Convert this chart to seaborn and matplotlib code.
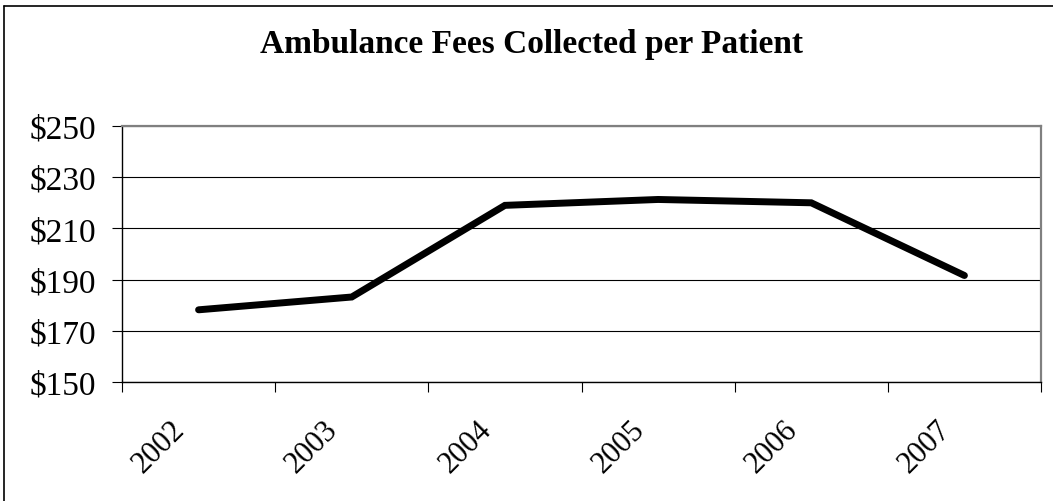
import matplotlib
matplotlib.use("Agg")
import matplotlib.pyplot as plt
import seaborn as sns
import pandas as pd
from matplotlib.lines import Line2D
from matplotlib.ticker import FixedLocator, FuncFormatter
import matplotlib.transforms as mtransforms

years = ["2002", "2003", "2004", "2005", "2006", "2007"]
fees = [178.2, 183.2, 219.0, 221.3, 220.0, 191.6]
y_ticks = [150, 170, 190, 210, 230, 250]
title = "Ambulance Fees Collected per Patient"

sns.set_theme(style="white")
plt.rcParams['font.family'] = ['Liberation Serif', 'DejaVu Serif']
plt.rcParams['text.color'] = 'black'
plt.rcParams['xtick.color'] = 'black'
plt.rcParams['ytick.color'] = 'black'
plt.rcParams['xtick.labelcolor'] = 'black'
plt.rcParams['ytick.labelcolor'] = 'black'

df = pd.DataFrame({"year": years, "fee": fees})

fig = plt.figure(figsize=(10.53, 5.02), dpi=100)
ax = fig.add_axes([122/1053, 1-383/502, (1041-122)/1053, (383-127)/502])

sns.lineplot(data=df, x="year", y="fee", ax=ax, color="black", linewidth=5,
             solid_capstyle="round", solid_joinstyle="miter", sort=False)

ax.set_xlim(-0.5, len(years) - 0.5)
ax.set_ylim(y_ticks[0], y_ticks[-1])
ax.set_xlabel("")
ax.set_ylabel("")

ax.yaxis.set_major_locator(FixedLocator(y_ticks))
ax.yaxis.set_major_formatter(FuncFormatter(lambda v, p: f"${int(v)}"))
ax.grid(axis="y", color="black", linewidth=0.8)
ax.grid(axis="x", visible=False)
ax.set_axisbelow(True)

ax.tick_params(axis="y", which="major", left=True, length=7.5, width=0.8,
               color="black", pad=11, labelsize=24, labelcolor="black")
ax.set_xticks(range(len(years)))
ax.set_xticklabels(years, rotation=45, ha="right", va="center",
                   rotation_mode="anchor", fontsize=22, color="black")
ax.set_xticks([i - 0.5 for i in range(len(years) + 1)], minor=True)
ax.tick_params(axis="x", which="major", bottom=False, length=0, pad=31)
ax.tick_params(axis="x", which="minor", bottom=True, length=7, width=0.8,
               color="black")
offset = mtransforms.ScaledTranslation(-18/100, 0, fig.dpi_scale_trans)
for lbl in ax.get_xticklabels():
    lbl.set_transform(lbl.get_transform() + offset)

for s in ["left", "bottom"]:
    ax.spines[s].set_visible(True)
    ax.spines[s].set_color("black")
    ax.spines[s].set_linewidth(1.0)
for s in ["top", "right"]:
    ax.spines[s].set_visible(True)
    ax.spines[s].set_color("#808080")
    ax.spines[s].set_linewidth(1.6)

fig.text(531/1053, 1-53/502, title, ha="center", va="baseline",
         fontsize=24, fontweight="bold", color="black")

# chart-area border (only top and left are visible in the reference)
fig.add_artist(Line2D([4/1053, 4/1053], [0, 1-7/502], transform=fig.transFigure,
                      color="black", linewidth=1.2))
fig.add_artist(Line2D([4/1053, 1], [1-7/502, 1-7/502], transform=fig.transFigure,
                      color="black", linewidth=1.2))

fig.savefig("out.png", dpi=100, facecolor="white")
